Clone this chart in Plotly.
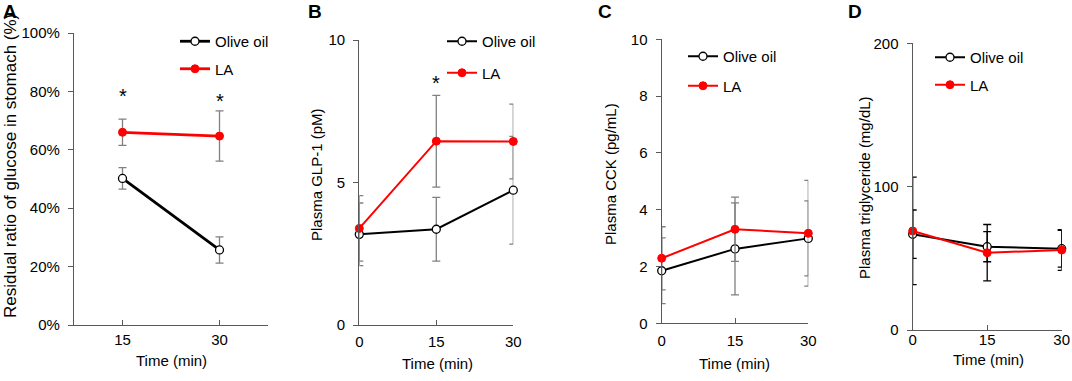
import plotly.graph_objects as go

# ---------------- data ----------------
time_A = [15, 30]
olive_A = [0.502, 0.257]
olive_A_err = [0.037, 0.045]
la_A = [0.660, 0.647]
la_A_err = [0.045, 0.086]

time_BCD = [0, 15, 30]
olive_B = [3.18, 3.36, 4.73]
olive_B_err = [1.10, 1.12, 1.89]
la_B = [3.39, 6.45, 6.44]
la_B_err = [1.15, 1.61, 1.31]

olive_C = [1.85, 2.62, 2.99]
olive_C_err = [1.16, 1.62, 1.32]
la_C = [2.29, 3.31, 3.17]
la_C_err = [1.11, 1.13, 1.86]

olive_D = [66.8, 58.1, 56.7]
olive_D_err = [16.9, 10.5, 12.8]
la_D = [69.1, 53.9, 55.8]
la_D_err = [37.5, 19.7, 14.2]

series_names = ["Olive oil", "LA"]
panel_letters = ["A", "B", "C", "D"]
y_titles = ["Residual ratio of glucose in stomach (%)", "Plasma GLP-1 (pM)",
            "Plasma CCK (pg/mL)", "Plasma triglyceride (mg/dL)"]
x_title = "Time (min)"

W, H = 1072, 381
FONT = "Liberation Sans, Arial, sans-serif"
RED = "#ff0000"
AXC = "#595959"

def px(x):
    return x / W

def py(y):
    return 1 - y / H

fig = go.Figure()

panels = [
    dict(x=time_A, o=olive_A, oe=olive_A_err, l=la_A, le=la_A_err, lw=2.8, ec="#808080"),
    dict(x=time_BCD, o=olive_B, oe=olive_B_err, l=la_B, le=la_B_err, lw=2, ec="#808080"),
    dict(x=time_BCD, o=olive_C, oe=olive_C_err, l=la_C, le=la_C_err, lw=2, ec="#808080"),
    dict(x=time_BCD, o=olive_D, oe=olive_D_err, l=la_D, le=la_D_err, lw=2, ec="#000000"),
]

for i, p in enumerate(panels):
    ax = "" if i == 0 else str(i + 1)
    leg = "legend" if i == 0 else "legend%d" % (i + 1)
    fig.add_trace(go.Scatter(
        x=p["x"], y=p["o"], mode="lines+markers", name=series_names[0],
        xaxis="x" + ax, yaxis="y" + ax, legend=leg, legendgroup="o%d" % i,
        line=dict(color="black", width=p["lw"]),
        marker=dict(size=8, color="white", line=dict(color="black", width=1.3)),
        error_y=dict(type="data", array=p["oe"], visible=True, color=p["ec"],
                     thickness=1.3, width=4),
        cliponaxis=False,
    ))
    fig.add_trace(go.Scatter(
        x=p["x"], y=p["l"], mode="lines+markers", name=series_names[1],
        xaxis="x" + ax, yaxis="y" + ax, legend=leg, legendgroup="l%d" % i,
        line=dict(color=RED, width=p["lw"]),
        marker=dict(size=8, color=RED, line=dict(color=RED, width=1)),
        error_y=dict(type="data", array=p["le"], visible=True, color=p["ec"],
                     thickness=1.3, width=4),
        cliponaxis=False,
    ))

# axis domains (pixel based)
xdom = [(74, 268), (359.3, 513.3), (661.7, 808.3), (912.7, 1061.7)]
ydom = [(33, 325), (40, 325), (39.3, 323.3), (43.3, 330)]
yranges = [[0, 1], [0, 10], [0, 10], [0, 200]]
ytickvals = [[0, 0.2, 0.4, 0.6, 0.8, 1.0], [0, 5, 10], [0, 2, 4, 6, 8, 10], [0, 100, 200]]
x_standoff = [1, 3, 4, -4]

tick_font = dict(family=FONT, size=15, color="black")
layout = {}
for i in range(4):
    ax = "" if i == 0 else str(i + 1)
    if i == 0:
        xr = [7.5, 37.5]
        xtv = [15, 30, 37.5]
        xtt = ["15", "30", ""]
    else:
        xr = [0, 30]
        xtv = [0, 15, 30]
        xtt = ["0", "15", "30"]
    layout["xaxis" + ax] = dict(
        domain=[px(xdom[i][0]), px(xdom[i][1])], range=xr, anchor="y" + ax,
        tickvals=xtv, ticktext=xtt, ticks="inside", ticklen=5, tickcolor=AXC,
        showline=True, linecolor=AXC, linewidth=1.3, showgrid=False, zeroline=False,
        tickfont=tick_font, ticklabelstandoff=x_standoff[i], fixedrange=True,
        automargin=False,
    )
    yd = dict(
        domain=[py(ydom[i][1]), py(ydom[i][0])], range=yranges[i], anchor="x" + ax,
        tickvals=ytickvals[i], ticks="outside", ticklen=5, tickcolor=AXC,
        showline=True, linecolor=AXC, linewidth=1.3, showgrid=False, zeroline=False,
        tickfont=tick_font, ticklabelstandoff=5, fixedrange=True, automargin=False,
    )
    if i == 0:
        yd["tickformat"] = ".0%"
    layout["yaxis" + ax] = yd

# legends
leg_pos = [(175, 25), (442, 25), (683, 40), (930, 41)]
leg_gap = [5, 9, 7, 5]
for i in range(4):
    key = "legend" if i == 0 else "legend%d" % (i + 1)
    layout[key] = dict(
        x=px(leg_pos[i][0]), y=py(leg_pos[i][1]), xanchor="left", yanchor="top",
        bgcolor="rgba(0,0,0,0)", font=dict(family=FONT, size=15, color="black"),
        traceorder="grouped", tracegroupgap=leg_gap[i], itemwidth=30,
    )

annotations = []

def add_text(text, x, y, size=15, angle=0, xref="paper", yref="paper", yshift=0):
    annotations.append(dict(text=text, x=x, y=y, xref=xref, yref=yref, showarrow=False,
                            xanchor="center", yanchor="middle", textangle=angle,
                            yshift=yshift, font=dict(family=FONT, size=size, color="black")))

# panel letters
letter_pos = [(10, 12), (315, 12), (605, 12), (855, 12)]
for i, t in enumerate(panel_letters):
    add_text("<b>%s</b>" % t, px(letter_pos[i][0]), py(letter_pos[i][1]), size=19)
# y titles
yt_pos = [(10, 166), (317, 175), (610, 174), (865, 188)]
yt_size = [17, 15, 15, 15]
for i, t in enumerate(y_titles):
    add_text(t, px(yt_pos[i][0]), py(yt_pos[i][1]), size=yt_size[i], angle=-90)
# x titles
xt_pos = [(171, 360), (437, 363), (734, 363), (988, 359)]
for i in range(4):
    add_text(x_title, px(xt_pos[i][0]), py(xt_pos[i][1]))
# significance stars
star_specs = [("x", "y", 15, 0.79), ("x", "y", 30, 0.775), ("x2", "y2", 15, 8.56)]
for xr_, yr_, xv, yv in star_specs:
    add_text("*", xv, yv, size=20, xref=xr_, yref=yr_, yshift=-2)

fig.update_layout(
    width=W, height=H,
    margin=dict(l=0, r=0, t=0, b=0, pad=0, autoexpand=False),
    paper_bgcolor="white", plot_bgcolor="white",
    font=dict(family=FONT, size=15, color="black"),
    annotations=annotations, **layout,
)

fig.write_html(
    "out.html",
    config={"displayModeBar": False},
    post_script="document.body.style.margin='0';document.body.style.padding='0';",
)
